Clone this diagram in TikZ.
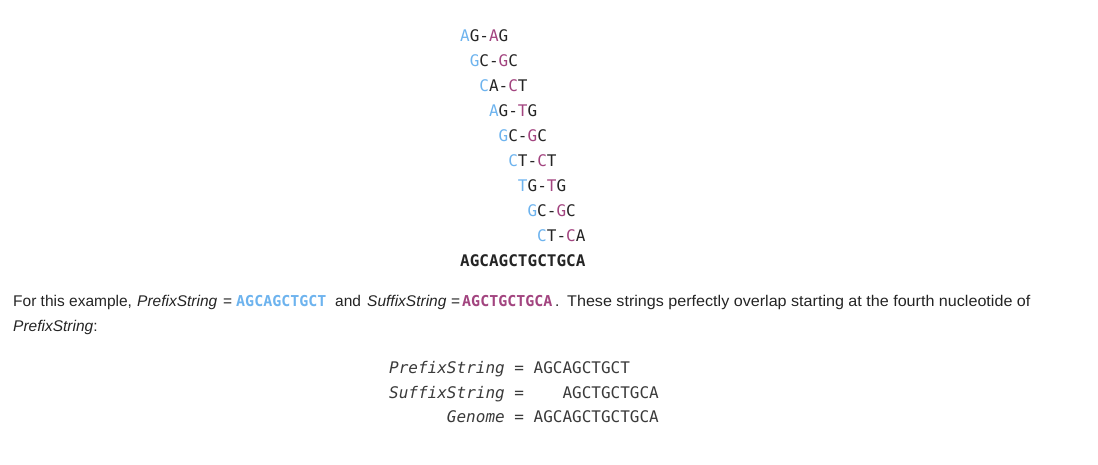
\documentclass[tikz,border=0pt]{standalone}
\usepackage{fontspec}
\setmainfont{Liberation Sans}
\setmonofont{DejaVu Sans Mono}
\definecolor{pfx}{HTML}{6DB3EE}
\definecolor{sfx}{HTML}{A2447F}
\definecolor{ink}{HTML}{242424}
% one k-mer pair: first symbol of the prefix and first symbol of the suffix are highlighted
\newcommand{\kpair}[4]{\textcolor{pfx}{#1}#2-\textcolor{sfx}{#3}#4}
\tikzset{
  kmer/.style={anchor=base west, inner sep=0pt, text=ink, font=\fontsize{16}{16}\selectfont\ttfamily},
  genome/.style={kmer, font=\fontsize{16}{16}\selectfont\ttfamily\bfseries},
  prose/.style={anchor=base west, inner sep=0pt, text=ink, font=\fontsize{15.5}{18}\selectfont},
  prosecode/.style={anchor=base west, inner sep=0pt, font=\fontsize{15}{18}\selectfont\ttfamily\bfseries},
  code/.style={anchor=base west, inner sep=0pt, text=ink!90, font=\fontsize{16}{16}\selectfont\ttfamily},
}
\begin{document}
\begin{tikzpicture}[x=1pt,y=-1pt]
\useasboundingbox (0,0) rectangle (1098,464);

% staircase of overlapping k-mer pairs
\foreach \a/\b/\c/\d [count=\i] in {A/G/A/G, G/C/G/C, C/A/C/T, A/G/T/G, G/C/G/C, C/T/C/T, T/G/T/G, G/C/G/C, C/T/C/A}
  \node[kmer] (row\i) at ({460+(\i-1)*9.63}, {41+(\i-1)*25}) {\kpair\a\b\c\d};
\node[genome] (gen) at (460,266) {AGCAGCTGCTGCA};

% explanatory paragraph
\node[prose] (p1) at (13,306.5) {For this example,};
\node[prose] (p2) at (137,306.5) {\itshape PrefixString};
\node[prose] (p3) at (223,306.5) {=};
\node[prosecode, text=pfx] (p4) at (236,306.5) {AGCAGCTGCT};
\node[prose] (p5) at (335,306.5) {and};
\node[prose] (p6) at (367,306.5) {\itshape SuffixString};
\node[prose] (p7) at (451,306.5) {=};
\node[prosecode, text=sfx] (p8) at (462,306.5) {AGCTGCTGCA};
\node[prose] (p9) at (555,306.5) {.};
\node[prose] (p10) at (567,306.5) {\scalebox{1.04}[1]{These strings perfectly overlap starting at the fourth nucleotide of}};
\node[prose] (q1) at (13,331.5) {\itshape PrefixString\upshape :};

% aligned prefix / suffix / genome
\node[code] (lp) at (389,373.5) {\itshape PrefixString};
\node[code] (ep) at ({389+13*9.63},373.5) {=};
\node[code] (sp) at ({389+15*9.63},373.5) {AGCAGCTGCT};
\node[code] (ls) at (389,398) {\itshape SuffixString};
\node[code] (es) at ({389+13*9.63},398) {=};
\node[code] (ss) at ({389+18*9.63},398) {AGCTGCTGCA};
\node[code] (lg) at ({389+6*9.63},422.5) {\itshape Genome};
\node[code] (eg) at ({389+13*9.63},422.5) {=};
\node[code] (sg) at ({389+15*9.63},422.5) {AGCAGCTGCTGCA};
\end{tikzpicture}
\end{document}
